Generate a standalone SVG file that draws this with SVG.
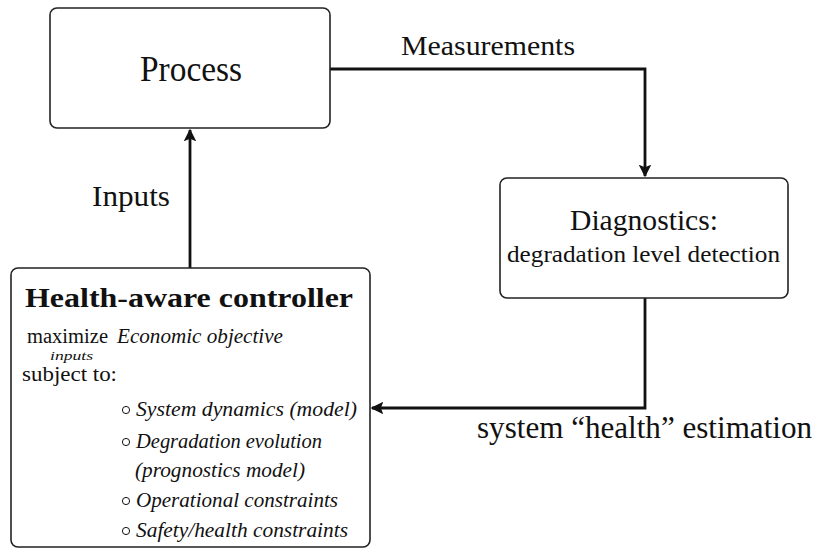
<svg xmlns="http://www.w3.org/2000/svg" width="816" height="549" viewBox="0 0 816 549">
<style>
.box{fill:#fff;stroke:#222;stroke-width:1.6}
.t{font-family:"Liberation Serif","DejaVu Serif","Noto Serif",serif;fill:#111}
.i{font-style:italic}
.b{font-weight:bold}
.bl{fill:none;stroke:#111;stroke-width:1}
.conn{fill:none;stroke:#111;stroke-width:2.8}
</style>
<defs>
<marker id="ah" viewBox="0 0 10 10" refX="9" refY="5" markerWidth="4.5" markerHeight="4.5" orient="auto" markerUnits="strokeWidth">
<path d="M0,0 L10,5 L0,10 L2,5 Z" fill="#111"/>
</marker>
</defs>
<rect width="816" height="549" fill="#fff"/>
<g id="connectors">
<path class="conn" d="M330,69 H645 V176" marker-end="url(#ah)"/>
<path class="conn" d="M645,298 V408 H372" marker-end="url(#ah)"/>
<path class="conn" d="M190,268 V130" marker-end="url(#ah)"/>
<text class="t" x="401" y="55" font-size="27" textLength="174" lengthAdjust="spacingAndGlyphs">Measurements</text>
<text class="t" x="92" y="206" font-size="30" textLength="78" lengthAdjust="spacingAndGlyphs">Inputs</text>
<text class="t" x="477" y="438" font-size="31" textLength="335" lengthAdjust="spacingAndGlyphs">system “health” estimation</text>
</g>
<g id="process">
<rect class="box" x="50" y="8" width="280" height="120" rx="7"/>
<text class="t" x="140" y="81" font-size="35" textLength="102" lengthAdjust="spacingAndGlyphs">Process</text>
</g>
<g id="diagnostics">
<rect class="box" x="500" y="178" width="288" height="120" rx="7"/>
<text class="t" x="570" y="230" font-size="29" textLength="148" lengthAdjust="spacingAndGlyphs">Diagnostics:</text>
<text class="t" x="507" y="262" font-size="23" textLength="273" lengthAdjust="spacingAndGlyphs">degradation level detection</text>
</g>
<g id="controller">
<rect class="box" x="11" y="268" width="359" height="279" rx="7"/>
<text class="t b" x="25" y="307" font-size="27" textLength="328" lengthAdjust="spacingAndGlyphs">Health-aware controller</text>
<text class="t" x="27" y="343" font-size="20" textLength="81" lengthAdjust="spacingAndGlyphs">maximize</text>
<text class="t i" x="117" y="343" font-size="20" textLength="166" lengthAdjust="spacingAndGlyphs">Economic objective</text>
<text class="t i" x="50" y="360" font-size="12" textLength="43" lengthAdjust="spacingAndGlyphs">inputs</text>
<text class="t" x="22" y="381" font-size="21" textLength="95" lengthAdjust="spacingAndGlyphs">subject to:</text>
<circle class="bl" cx="126" cy="410" r="3.6"/>
<text class="t i" x="136" y="416" font-size="21" textLength="221" lengthAdjust="spacingAndGlyphs">System dynamics (model)</text>
<circle class="bl" cx="126" cy="442" r="3.6"/>
<text class="t i" x="136" y="448" font-size="21" textLength="186" lengthAdjust="spacingAndGlyphs">Degradation evolution</text>
<text class="t i" x="135" y="477" font-size="21" textLength="170" lengthAdjust="spacingAndGlyphs">(prognostics model)</text>
<circle class="bl" cx="126" cy="501" r="3.6"/>
<text class="t i" x="136" y="507" font-size="21" textLength="202" lengthAdjust="spacingAndGlyphs">Operational constraints</text>
<circle class="bl" cx="126" cy="531" r="3.6"/>
<text class="t i" x="136" y="537" font-size="21" textLength="212" lengthAdjust="spacingAndGlyphs">Safety/health constraints</text>
</g>
</svg>
